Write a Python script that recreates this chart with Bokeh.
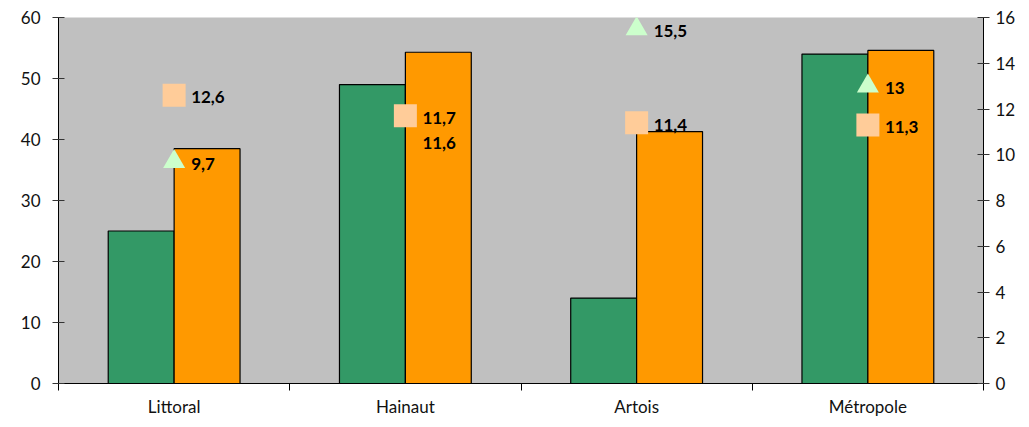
from bokeh.plotting import figure
from bokeh.models import (Range1d, LinearAxis, FixedTicker, ColumnDataSource)
from bokeh.core.properties import value
from bokeh.embed import file_html
from bokeh.resources import INLINE

categories = ["Littoral", "Hainaut", "Artois", "Métropole"]
green_vals = [25, 49, 14, 54]
orange_vals = [38.5, 54.3, 41.3, 54.6]
square_vals = [12.6, 11.7, 11.4, 11.3]
triangle_vals = [9.7, 11.6, 15.5, 13]
left_ticks = [0, 10, 20, 30, 40, 50, 60]
right_ticks = [0, 2, 4, 6, 8, 10, 12, 14, 16]

FONT = "Lato"
GREEN = "#339966"
ORANGE = "#FF9900"
SQUARE = "#FFCC99"
TRI = "#CCFFCC"

n = len(categories)
centers = [i + 0.5 for i in range(n)]
bw = 0.285

p = figure(width=1021, height=419, x_range=Range1d(0, n), y_range=Range1d(0, 60),
           output_backend="svg", toolbar_location=None,
           min_border_left=58, min_border_right=38, min_border_top=17, min_border_bottom=36,
           x_axis_location="below", y_axis_location="left")
p.extra_y_ranges = {"right": Range1d(0, 16)}
p.background_fill_color = "#C0C0C0"
p.border_fill_color = "white"
p.outline_line_color = None
p.xgrid.visible = False
p.ygrid.visible = False

# bars
p.vbar(x=[c - bw / 2 for c in centers], top=green_vals, width=bw, bottom=0,
       fill_color=GREEN, line_color="black", line_width=1.2)
p.vbar(x=[c + bw / 2 for c in centers], top=orange_vals, width=bw, bottom=0,
       fill_color=ORANGE, line_color="black", line_width=1.2)

# markers (triangle first so that squares cover it where they coincide)
p.scatter(x=centers, y=triangle_vals, marker="triangle", size=22, fill_color=TRI,
          line_color=None, y_range_name="right")
p.scatter(x=centers, y=square_vals, marker="square", size=23, fill_color=SQUARE,
          line_color=None, y_range_name="right")

def fmt(v):
    return f"{v:g}".replace(".", ",")

sq_src = ColumnDataSource(dict(x=centers, y=square_vals, t=[fmt(v) for v in square_vals]))
tri_off = [25 if abs(a - b) < 0.5 else 2 for a, b in zip(triangle_vals, square_vals)]
tri_src = ColumnDataSource(dict(x=centers, y=triangle_vals, t=[fmt(v) for v in triangle_vals],
                                yo=tri_off))
p.text(x="x", y="y", text="t", source=sq_src, y_range_name="right", x_offset=17, y_offset=2,
       text_font=value(FONT), text_font_size="17px", text_font_style="bold",
       text_baseline="middle", text_align="left", text_color="black")
p.text(x="x", y="y", text="t", source=tri_src, y_range_name="right", x_offset=17, y_offset="yo",
       text_font=value(FONT), text_font_size="17px", text_font_style="bold",
       text_baseline="middle", text_align="left", text_color="black")

# x axis
xa = p.xaxis[0]
xa.ticker = FixedTicker(ticks=centers, minor_ticks=list(range(n + 1)))
xa.major_label_overrides = {c: cat for c, cat in zip(centers, categories)}
xa.major_tick_out = 0
xa.major_tick_in = 0
xa.minor_tick_out = 7
xa.minor_tick_in = 0
xa.minor_tick_line_color = "black"
xa.axis_line_color = "black"
xa.major_label_standoff = 5
xa.major_label_text_font = FONT
xa.major_label_text_font_size = "17px"
xa.major_label_text_color = "#111111"

# left y axis
ya = p.yaxis[0]
ya.ticker = FixedTicker(ticks=left_ticks)
ya.major_tick_in = 6
ya.major_tick_out = 6
ya.minor_tick_line_color = None
ya.axis_line_color = "black"
ya.major_tick_line_color = "#333333"
ya.major_label_standoff = 12
ya.major_label_text_font = FONT
ya.major_label_text_font_size = "17px"
ya.major_label_text_color = "#111111"

# right y axis
ra = LinearAxis(y_range_name="right", ticker=FixedTicker(ticks=right_ticks))
ra.major_tick_in = 6
ra.major_tick_out = 6
ra.minor_tick_line_color = None
ra.axis_line_color = "black"
ra.major_tick_line_color = "#333333"
ra.major_label_standoff = 6
ra.major_label_text_font = FONT
ra.major_label_text_font_size = "17px"
ra.major_label_text_color = "#111111"
p.add_layout(ra, "right")

open("out.html", "w").write(file_html(p, INLINE))
